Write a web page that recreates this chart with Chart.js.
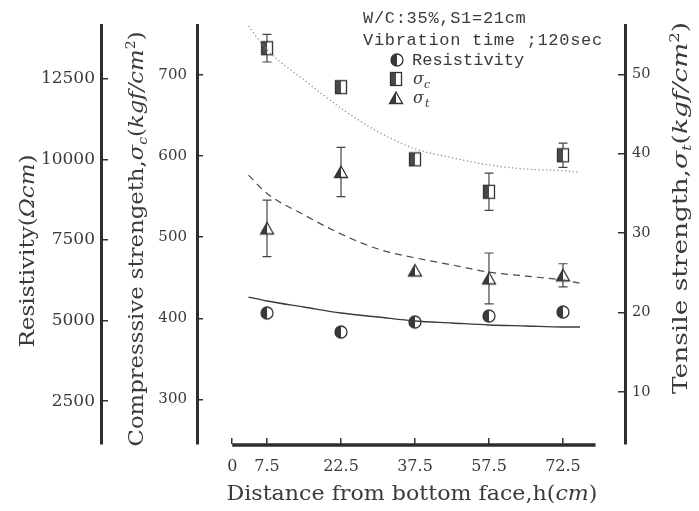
<!DOCTYPE html>
<html><head><meta charset="utf-8">
<script src="https://cdn.jsdelivr.net/npm/chart.js@4"></script>
<style>html,body{margin:0;padding:0;background:#fff}#wrap{width:699px;height:511px}</style>
</head><body><div id="wrap"><canvas id="c" width="699" height="511"></canvas></div>
<script>
// ---------- data ----------
const categories = ['7.5', '22.5', '37.5', '57.5', '72.5'];   // distance h (cm)
const originLabel = '0';
const resistivity = [5236, 4646, 4957, 5143, 5267];           // Ω·cm
const compressive = [733, 685, 596, 556, 601];                // kgf/cm2
const compressiveErr = [17, null, null, 23, 15];
const tensile = [30.6, 37.7, 25.3, 24.3, 24.7];               // kgf/cm2
const tensileErr = [3.55, 3.1, null, 3.2, 1.45];
// fitted curves, read at category-index positions
const trendX = [-0.25, 0, 0.5, 1, 1.5, 2, 2.5, 3, 3.5, 4, 4.23];
const resistivityTrend = [5732, 5608, 5422, 5236, 5112, 4988, 4926, 4864, 4833, 4802, 4802];
const compressiveTrend = [760, 731, 694, 659, 630, 609, 598, 589, 584, 582, 580];
const tensileTrend = [37.3, 35.0, 32.3, 29.9, 28.0, 26.9, 26.0, 25.1, 24.6, 24.1, 23.7];
// axis ticks
const resistivityTicks = [2500, 5000, 7500, 10000, 12500];
const compressiveTicks = [300, 400, 500, 600, 700];
const tensileTicks = [10, 20, 30, 40, 50];
const annotationLines = ['W/C:35%,S1=21cm', 'Vibration time ;120sec'];

// ---------- marker images ----------
const INK = '#333';
function makeMarker(kind) {
  const c = document.createElement('canvas');
  c.width = 16; c.height = 16;
  const g = c.getContext('2d');
  const cx = 8, cy = 8;
  g.lineWidth = 1.3; g.strokeStyle = INK;
  if (kind === 'circle') {
    g.fillStyle = '#fff'; g.beginPath(); g.arc(cx, cy, 6, 0, 2 * Math.PI); g.fill();
    g.fillStyle = '#3a3a3a'; g.beginPath(); g.arc(cx, cy, 6, Math.PI / 2, 3 * Math.PI / 2); g.closePath(); g.fill();
    g.beginPath(); g.arc(cx, cy, 6, 0, 2 * Math.PI); g.stroke();
  } else if (kind === 'square') {
    g.fillStyle = '#fff'; g.fillRect(cx - 5.5, cy - 6.5, 11, 13);
    g.fillStyle = '#4a4a4a'; g.fillRect(cx - 5.5, cy - 6.5, 5.5, 13);
    g.strokeRect(cx - 5.5, cy - 6.5, 11, 13);
  } else {
    g.fillStyle = '#fff';
    g.beginPath(); g.moveTo(cx, cy - 6); g.lineTo(cx + 6.5, cy + 5.5); g.lineTo(cx - 6.5, cy + 5.5); g.closePath(); g.fill();
    g.fillStyle = '#3a3a3a';
    g.beginPath(); g.moveTo(cx, cy - 6); g.lineTo(cx, cy + 5.5); g.lineTo(cx - 6.5, cy + 5.5); g.closePath(); g.fill();
    g.beginPath(); g.moveTo(cx, cy - 6); g.lineTo(cx + 6.5, cy + 5.5); g.lineTo(cx - 6.5, cy + 5.5); g.closePath(); g.stroke();
  }
  return c;
}
const mCircle = makeMarker('circle'), mSquare = makeMarker('square'), mTri = makeMarker('tri');

// ---------- helpers ----------
const SERIF = '"DejaVu Serif", serif';
const MONO = '"Liberation Mono", monospace';
const TXT = '#3a3a3a';
function richWidth(ctx, segs) { let w = 0; for (const s of segs) { ctx.font = s.f; w += ctx.measureText(s.t).width; } return w; }
function drawRich(ctx, segs, cx, cy, rot, targetLen, off) {
  ctx.save(); ctx.translate(cx, cy); ctx.rotate(rot);
  const w = richWidth(ctx, segs); const k = targetLen / w;
  ctx.scale(k, 1);
  let x = -w / 2; ctx.fillStyle = TXT; ctx.textBaseline = 'alphabetic'; ctx.textAlign = 'left';
  for (const s of segs) { ctx.font = s.f; ctx.fillText(s.t, x, off + (s.dy || 0)); x += ctx.measureText(s.t).width; }
  ctx.restore();
}
function titleSegs(size, word, sub) {
  const n = size + 'px ' + SERIF, it = 'italic ' + size + 'px ' + SERIF, sm = 'italic ' + Math.round(size * 0.62) + 'px ' + SERIF;
  return [{t: word, f: n}, {t: 'σ', f: it}, {t: sub, f: sm, dy: 4}, {t: '(', f: n}, {t: 'kgf/cm', f: it},
          {t: '2', f: Math.round(size * 0.62) + 'px ' + SERIF, dy: -8}, {t: ')', f: n}];
}

const errorBars = {
  id: 'errorBars',
  beforeDatasetsDraw(chart) {
    const ctx = chart.ctx, xs = chart.scales.x;
    chart.data.datasets.forEach(ds => {
      if (!ds.errors) return;
      const ys = chart.scales[ds.yAxisID];
      ds.data.forEach((p, i) => {
        const e = ds.errors[i]; if (e == null) return;
        const x = xs.getPixelForValue(p.x), y1 = ys.getPixelForValue(p.y + e), y2 = ys.getPixelForValue(p.y - e);
        ctx.save(); ctx.strokeStyle = '#444'; ctx.lineWidth = 1.2;
        ctx.beginPath(); ctx.moveTo(x, y1); ctx.lineTo(x, y2);
        ctx.moveTo(x - 4.5, y1); ctx.lineTo(x + 4.5, y1); ctx.moveTo(x - 4.5, y2); ctx.lineTo(x + 4.5, y2);
        ctx.stroke(); ctx.restore();
      });
    });
  }
};

const X_ORIGIN = -0.47, X_END = 4.44;
const decor = {
  id: 'decor',
  afterDraw(chart) {
    const ctx = chart.ctx, xs = chart.scales.x;
    // x axis line (only spans the drawn range in the original)
    ctx.save(); ctx.strokeStyle = '#2e2e2e'; ctx.lineWidth = 3.5;
    ctx.beginPath(); ctx.moveTo(xs.getPixelForValue(X_ORIGIN), xs.top + 1); ctx.lineTo(xs.getPixelForValue(X_END), xs.top + 1); ctx.stroke();
    ctx.restore();
    // axis titles
    drawRich(ctx, [{t: 'Resistivity(', f: '21px ' + SERIF}, {t: 'Ωcm', f: 'italic 21px ' + SERIF}, {t: ')', f: '21px ' + SERIF}],
      27, 251, -Math.PI / 2, 193, 7);
    drawRich(ctx, titleSegs(21, 'Compresssive strengeth,', 'c'), 136, 239, -Math.PI / 2, 415, 7);
    drawRich(ctx, titleSegs(21, 'Tensile strength,', 't'), 680, 208, -Math.PI / 2, 372, 7);
    drawRich(ctx, [{t: 'Distance from bottom face,h(', f: '20px ' + SERIF}, {t: 'cm', f: 'italic 20px ' + SERIF}, {t: ')', f: '20px ' + SERIF}],
      412, 493, 0, 371, 7);
    // annotation
    ctx.save(); ctx.fillStyle = TXT; ctx.textAlign = 'left'; ctx.textBaseline = 'alphabetic';
    ctx.font = '17px ' + MONO;
    try { ctx.letterSpacing = '0.7px'; } catch (e) {}
    ctx.fillText(annotationLines[0], 363, 23);
    ctx.fillText(annotationLines[1], 363, 45);
    try { ctx.letterSpacing = '0px'; } catch (e) {}
    // legend
    ctx.drawImage(mCircle, 397 - 8, 60 - 8);
    ctx.drawImage(mSquare, 396 - 8, 79 - 8);
    ctx.drawImage(mTri, 396 - 8, 98 - 8);
    ctx.font = '17px ' + MONO; ctx.fillText('Resistivity', 412, 65);
    ctx.font = 'italic 16px ' + SERIF; ctx.fillText('σ', 413, 84); ctx.fillText('σ', 413, 103);
    ctx.font = 'italic 11px ' + SERIF; ctx.fillText('c', 424, 88); ctx.fillText('t', 425, 107);
    ctx.restore();
  }
};

const pts = (arr) => arr.map((v, i) => ({x: i, y: v}));
const trend = (arr) => trendX.map((x, i) => ({x, y: arr[i]}));

new Chart(document.getElementById('c'), {
  type: 'line',
  data: {
    datasets: [
      {label: 'Resistivity fit', data: trend(resistivityTrend), yAxisID: 'yR', borderColor: '#3a3a3a', borderWidth: 1.3,
       pointRadius: 0, cubicInterpolationMode: 'monotone', fill: false},
      {label: 'σc fit', data: trend(compressiveTrend), yAxisID: 'yC', borderColor: '#8a8a8a', borderWidth: 1.3,
       borderDash: [1.2, 2.6], pointRadius: 0, cubicInterpolationMode: 'monotone', fill: false},
      {label: 'σt fit', data: trend(tensileTrend), yAxisID: 'yT', borderColor: '#4a4a4a', borderWidth: 1.2,
       borderDash: [7, 5], pointRadius: 0, cubicInterpolationMode: 'monotone', fill: false},
      {label: 'Resistivity', data: pts(resistivity), yAxisID: 'yR', showLine: false, pointStyle: mCircle, pointRadius: 6},
      {label: 'σc', data: pts(compressive), errors: compressiveErr, yAxisID: 'yC', showLine: false, pointStyle: mSquare, pointRadius: 6},
      {label: 'σt', data: pts(tensile), errors: tensileErr, yAxisID: 'yT', showLine: false, pointStyle: mTri, pointRadius: 6}
    ]
  },
  options: {
    responsive: false, devicePixelRatio: 1, animation: false, events: [],
    layout: {padding: {top: 25, left: 0, right: 0, bottom: 0}},
    plugins: {legend: {display: false}, tooltip: {enabled: false}},
    scales: {
      x: {
        type: 'linear', min: -0.946, max: 4.838,
        afterBuildTicks: s => { s.ticks = [X_ORIGIN, 0, 1, 2, 3, 4].map(v => ({value: v})); },
        ticks: {autoSkip: false, maxRotation: 0, padding: 19, color: TXT, font: {family: SERIF, size: 16},
                callback: (v, i) => i === 0 ? originLabel : categories[i - 1]},
        grid: {drawOnChartArea: false, tickLength: -6, color: '#333', lineWidth: 1.5},
        border: {display: false},
        afterFit: s => { s.height = 67; }
      },
      yR: {
        position: 'left', weight: 1, min: 1173, max: 14169,
        afterBuildTicks: s => { s.ticks = resistivityTicks.map(v => ({value: v})); },
        ticks: {padding: 13, color: TXT, font: {family: SERIF, size: 17}, callback: v => String(v)},
        grid: {drawOnChartArea: false, tickLength: -7, color: '#333', lineWidth: 1.5},
        border: {color: '#2e2e2e', width: 3},
        afterFit: s => { s.width = 101; }
      },
      yC: {
        position: 'left', weight: 0, min: 245.0, max: 761.6,
        afterBuildTicks: s => { s.ticks = compressiveTicks.map(v => ({value: v})); },
        ticks: {padding: 16, color: TXT, font: {family: SERIF, size: 15}, callback: v => String(v)},
        grid: {drawOnChartArea: false, tickLength: -6, color: '#333', lineWidth: 1.5},
        border: {color: '#2e2e2e', width: 3},
        afterFit: s => { s.width = 96; }
      },
      yT: {
        position: 'right', min: 3.46, max: 56.2,
        afterBuildTicks: s => { s.ticks = tensileTicks.map(v => ({value: v})); },
        ticks: {padding: 14, color: TXT, font: {family: SERIF, size: 14.5}, callback: v => String(v)},
        grid: {drawOnChartArea: false, tickLength: -7, color: '#333', lineWidth: 1.5},
        border: {color: '#2e2e2e', width: 3},
        afterFit: s => { s.width = 74; }
      }
    }
  },
  plugins: [errorBars, decor]
});
</script>
</body></html>
